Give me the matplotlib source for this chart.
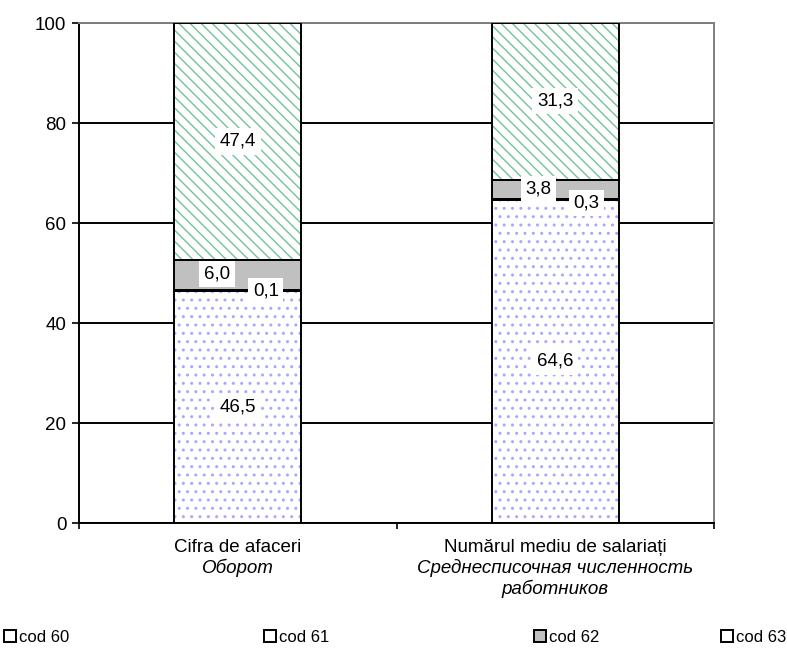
import numpy as np
import matplotlib
matplotlib.use('Agg')
from matplotlib import pyplot as plt
from matplotlib.patches import Patch

plt.rcParams['font.family'] = ['Liberation Sans', 'DejaVu Sans']
plt.rcParams['font.size'] = 13.5
plt.rcParams['hatch.linewidth'] = 1.0

# data
categories = ['Cifra de afaceri', 'Numărul mediu de salariați']
categories_ru = [['Оборот'], ['Среднесписочная численность', 'работников']]
series_names = ['cod 60', 'cod 61', 'cod 62', 'cod 63']
cod60 = [46.5, 64.6]
cod61 = [0.1, 0.3]
cod62 = [6.0, 3.8]
cod63 = [47.4, 31.3]
y_ticks = [0, 20, 40, 60, 80, 100]

# styles
fills = ['white', 'white', '#c0c0c0', 'white']
hatches = ['..', 'xx', None, '\\\\\\']
hatch_colors = ['#a8a8ff', '#cc3399', None, '#74c29b']
# label offsets in pixels (dx, dy) per series, per bar
label_offsets = [
    [(0, 0), (0, 0)],
    [(28, -1), (31, -4)],
    [(-21, 1), (-17, 0)],
    [(0, 0), (0, 0)],
]

fig = plt.figure(figsize=(7.87, 6.51), dpi=100)
ax = fig.add_axes([79 / 787, 128 / 651, 635 / 787, 500 / 651])

values = [cod60, cod61, cod62, cod63]
x = np.arange(len(categories))
bottom = np.zeros(len(categories))
bar_w = 0.4
px = 72 / 100  # pixels -> points

for i, vals in enumerate(values):
    vals = np.array(vals)
    if hatches[i] is not None:
        ax.bar(x, vals, bar_w, bottom=bottom, color=fills[i],
               edgecolor=hatch_colors[i], hatch=hatches[i], linewidth=0, zorder=2)
    else:
        ax.bar(x, vals, bar_w, bottom=bottom, color=fills[i], linewidth=0, zorder=2)
    ax.bar(x, vals, bar_w, bottom=bottom, fill=False, edgecolor='black',
           linewidth=1.4, zorder=3)
    for j, v in enumerate(vals):
        dx, dy = label_offsets[i][j]
        ax.annotate(f'{v:.1f}'.replace('.', ','), xy=(x[j], bottom[j] + v / 2),
                    xytext=(dx * px, dy * px), textcoords='offset points',
                    ha='center', va='center', fontsize=13.5, zorder=5,
                    bbox=dict(boxstyle='square,pad=0.25', fc='white', ec='none'))
    bottom = bottom + vals

ax.set_ylim(0, 100)
ax.set_xlim(-0.5, 1.5)
ax.set_yticks(y_ticks)
ax.yaxis.grid(True, color='black', linewidth=1.4)
ax.set_axisbelow(True)
ax.tick_params(axis='y', length=5, width=1.2, direction='out', labelsize=13.5, pad=4)
ax.set_xticks([-0.5, 0.5, 1.5])
ax.set_xticklabels([])
ax.tick_params(axis='x', length=4, width=1.2, direction='out')

ax.spines['left'].set_linewidth(1.4)
ax.spines['bottom'].set_linewidth(1.4)
ax.spines['bottom'].set_zorder(4)
ax.spines['top'].set_color('#808080')
ax.spines['right'].set_color('#808080')
ax.spines['top'].set_linewidth(1.4)
ax.spines['right'].set_linewidth(1.4)

for j, name in enumerate(categories):
    ax.annotate(name, xy=(x[j], 0), xycoords=('data', 'axes fraction'),
                xytext=(0, -24 * px), textcoords='offset points',
                ha='center', va='center', fontsize=13.5)
    for k, line in enumerate(categories_ru[j]):
        ax.annotate(line, xy=(x[j], 0), xycoords=('data', 'axes fraction'),
                    xytext=(0, (-45 - 21 * k) * px), textcoords='offset points',
                    ha='center', va='center', fontsize=13.5, style='italic')

legend_x = [4, 264, 534, 721]
for i, name in enumerate(series_names):
    h = Patch(facecolor=fills[i], edgecolor='black', linewidth=1.4)
    fig.legend(handles=[h], labels=[name], loc='center left',
               bbox_to_anchor=(legend_x[i] / 787, 14 / 651), frameon=False,
               handlelength=0.7, handleheight=0.7, handletextpad=0.2,
               borderpad=0, borderaxespad=0, fontsize=12)

fig.savefig('out.png', dpi=100)
